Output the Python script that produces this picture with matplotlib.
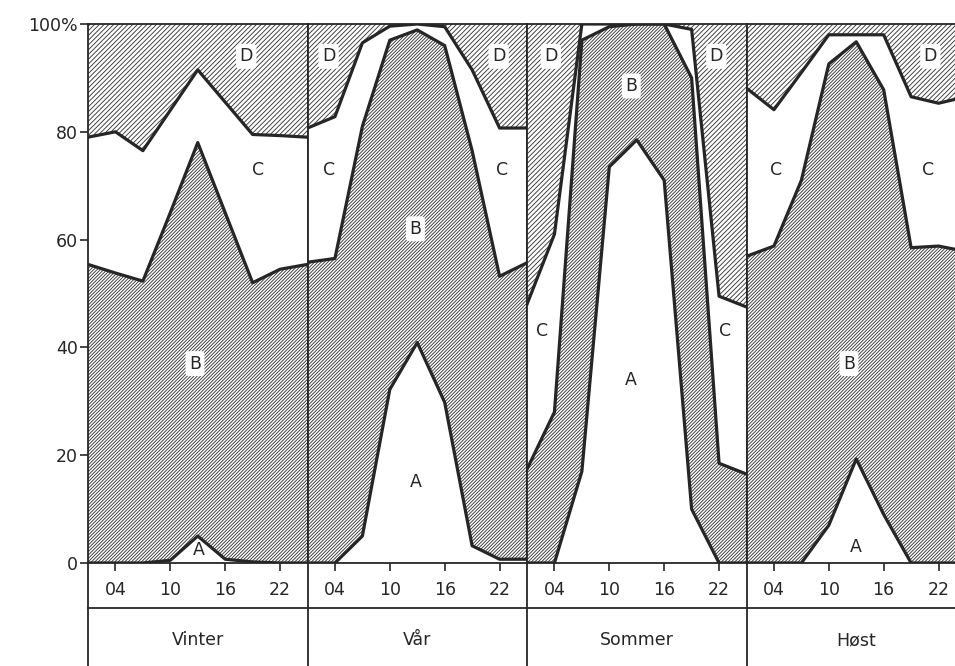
import numpy as np
import matplotlib
matplotlib.use("Agg")
import matplotlib.pyplot as plt
from matplotlib.lines import Line2D

# Hour of day (3-hourly, 25 = 01 next day) and season panels
hours = [1, 4, 7, 10, 13, 16, 19, 22, 25]
seasons = ["Vinter", "Vår", "Sommer", "Høst"]
hour_ticks = [4, 10, 16, 22]
hour_labels = ["04", "10", "16", "22"]
y_ticks = [0, 20, 40, 60, 80, 100]
y_labels = ["0", "20", "40", "60", "80", "100%"]
layers = ["A", "B", "C", "D"]

# Percentage share of each class per hour
vinter_A = [0, 0, 0, 0.5, 5.0, 0.7, 0.2, 0, 0]
vinter_B = [55.4, 53.8, 52.3, 64.5, 73.0, 64.3, 51.8, 54.5, 55.4]
vinter_C = [23.6, 26.2, 24.2, 19.0, 13.5, 20.5, 27.5, 24.8, 23.6]
vinter_D = [21.0, 20.0, 23.5, 16.0, 8.5, 14.5, 20.5, 20.7, 21.0]

vaar_A = [0, 0, 5.0, 32.2, 40.9, 29.8, 3.2, 0.7, 0.7]
vaar_B = [55.8, 56.5, 76.0, 64.8, 58.0, 66.2, 73.3, 52.5, 55.0]
vaar_C = [24.9, 26.3, 15.5, 2.6, 1.1, 3.5, 15.0, 27.5, 25.0]
vaar_D = [19.3, 17.2, 3.5, 0.4, 0, 0.5, 8.5, 19.3, 19.3]

sommer_A = [0, 0, 17.0, 73.5, 78.5, 71.0, 10.0, 0, 0]
sommer_B = [17.4, 28.0, 80.0, 26.0, 21.5, 29.0, 80.0, 18.5, 16.5]
sommer_C = [30.6, 33.0, 3.0, 0.5, 0, 0, 9.0, 31.0, 31.0]
sommer_D = [52.0, 39.0, 0, 0, 0, 0, 1.0, 50.5, 52.5]

host_A = [0, 0, 0, 7.0, 19.3, 9.0, 0, 0, 0]
host_B = [56.9, 58.8, 71.0, 85.6, 77.4, 78.8, 58.5, 58.8, 57.8]
host_C = [31.2, 25.3, 20.0, 5.4, 1.3, 10.2, 28.0, 26.5, 28.7]
host_D = [11.9, 15.9, 9.0, 2.0, 2.0, 2.0, 13.5, 14.7, 13.5]

season_data = [
    (vinter_A, vinter_B, vinter_C, vinter_D),
    (vaar_A, vaar_B, vaar_C, vaar_D),
    (sommer_A, sommer_B, sommer_C, sommer_D),
    (host_A, host_B, host_C, host_D),
]

# Letter annotations: (panel, hour, percent, letter)
region_labels = [
    (0, 18.3, 94, "D"), (0, 19.6, 73, "C"), (0, 12.7, 37, "B"), (0, 13.1, 2.5, "A"),
    (1, 3.3, 94, "D"), (1, 21.9, 94, "D"), (1, 3.4, 73, "C"), (1, 22.3, 73, "C"),
    (1, 12.8, 62, "B"), (1, 12.8, 15, "A"),
    (2, 3.6, 94, "D"), (2, 21.7, 94, "D"), (2, 12.4, 88.5, "B"),
    (2, 2.7, 43, "C"), (2, 22.7, 43, "C"), (2, 12.4, 34, "A"),
    (3, 21.1, 94, "D"), (3, 4.2, 73, "C"), (3, 20.9, 73, "C"),
    (3, 12.2, 37, "B"), (3, 13.0, 3, "A"),
]

plt.rcParams["font.family"] = ["DejaVu Sans"]
plt.rcParams["hatch.linewidth"] = 0.65

W, H = 955, 666
fig = plt.figure(figsize=(W / 100, H / 100), dpi=100)
fig.patch.set_facecolor("white")

ink = "#262626"
hatch_ink = "#383838"
x0, pw = 88.0, 219.5
y_top, y_zero = 24.0, 563.0

fills = {
    "A": None,
    "B": "/" * 10,
    "C": None,
    "D": "/" * 7,
}

h = np.array(hours, dtype=float)
for i, parts in enumerate(season_data):
    ax = fig.add_axes([(x0 + i * pw) / W, (H - y_zero) / H, pw / W, (y_zero - y_top) / H])
    ax.set_xlim(1, 25)
    ax.set_ylim(0, 100)
    lower = np.zeros_like(h)
    for name, vals in zip(layers, parts):
        upper = lower + np.asarray(vals, dtype=float)
        ax.fill_between(h, lower, upper, facecolor="white",
                        edgecolor=hatch_ink, hatch=fills[name], linewidth=0, zorder=1)
        lower = upper
    # class boundaries
    cum = np.cumsum(np.array(parts, dtype=float), axis=0)
    for row in cum[:3]:
        ax.plot(h, row, color=ink, lw=2.3, solid_joinstyle="round", zorder=3)

    for sp in ax.spines.values():
        sp.set_color(ink)
        sp.set_linewidth(1.3)
        sp.set_zorder(4)

    ax.set_xticks(hour_ticks)
    ax.set_xticklabels(hour_labels)
    ax.tick_params(axis="x", direction="out", length=6, width=1.2, color=ink,
                   pad=7, labelsize=12.5, labelcolor=ink)
    if i == 0:
        ax.set_yticks(y_ticks)
        ax.set_yticklabels(y_labels)
        ax.tick_params(axis="y", direction="out", length=6, width=1.2, color=ink,
                       pad=1.5, labelsize=12.5, labelcolor=ink)
    else:
        ax.set_yticks([])

    for (p, hx, yv, letter) in region_labels:
        if p != i:
            continue
        hatched = letter in ("B", "D")
        ax.text(hx, yv, letter, ha="center", va="center", fontsize=12.5, color=ink, zorder=5,
                bbox=dict(boxstyle="round,pad=0.2", fc="white", ec="none") if hatched else None)

# table below the panels
y_sep = 608.0
fig.add_artist(Line2D([x0 / W, 1.0], [(H - y_sep) / H] * 2, transform=fig.transFigure,
                      color=ink, lw=1.3))
for i in range(4):
    xv = (x0 + i * pw) / W
    fig.add_artist(Line2D([xv, xv], [0, (H - y_zero) / H], transform=fig.transFigure,
                          color=ink, lw=1.3))
    fig.text((x0 + (i + 0.5) * pw) / W, (H - 640) / H, seasons[i], ha="center", va="center",
             fontsize=12.5, color=ink)

fig.savefig("out.png", dpi=100, facecolor="white")
